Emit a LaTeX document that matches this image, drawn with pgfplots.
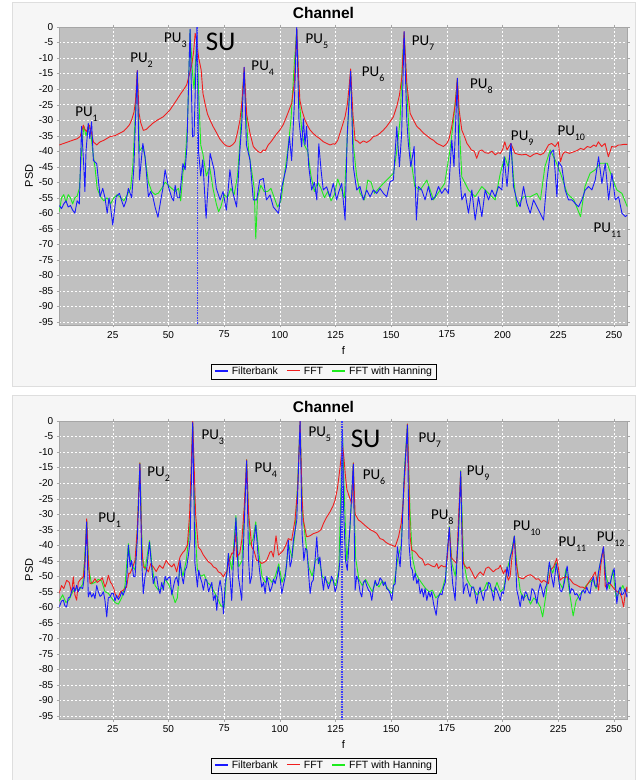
\documentclass[border=0pt]{standalone}
\usepackage{fontspec}
\setmainfont{Liberation Sans}
\newfontfamily\carlito{Carlito}
\usepackage{pgfplots}
\pgfplotsset{compat=1.18}

\definecolor{fbblue}{RGB}{25,25,255}
\definecolor{fftred}{RGB}{240,30,30}
\definecolor{hangreen}{RGB}{30,235,30}
\definecolor{plotbg}{RGB}{192,192,192}
\definecolor{panelbg}{RGB}{246,246,246}
\definecolor{panelline}{RGB}{222,222,222}
\definecolor{sublue}{RGB}{60,60,255}

\newcommand\PU[1]{{\carlito\fontsize{15}{15}\selectfont PU\raisebox{-5pt}{\fontsize{10}{10}\selectfont #1}}}
\newcommand\SU{{\carlito\fontsize{27}{27}\selectfont SU}}
\newcommand\legline[1]{\textcolor{#1}{\rule[3.2pt]{13pt}{1.2pt}}\hspace{4pt}}

\pgfplotsset{
  chan/.style={
    width=568pt, height=298pt, scale only axis,
    xmin=1, xmax=256, ymin=-96, ymax=0,
    xtick={25,50,...,250}, ytick={-95,-90,...,0},
    grid=major,
    major grid style={white, dash pattern=on 2pt off 2pt, line width=0.5pt},
    axis background/.style={fill=plotbg},
    axis line style={gray!70, line width=0.6pt},
    tick align=outside, major tick length=2.5pt, tick style={gray!70},
    ticklabel style={font=\fontsize{10}{12}\selectfont},
    /pgf/number format/assume math mode=true,
    xlabel=f, ylabel=PSD,
    label style={font=\fontsize{11}{13}\selectfont},
    xlabel style={at={(axis description cs:0.5,-0.084)}, anchor=center},
    ylabel style={at={(axis description cs:-0.053,0.5)}, anchor=center},
    title=Channel,
    title style={at={(axis description cs:0.465,1.027)}, anchor=center,
      font=\bfseries\fontsize{15.5}{18}\selectfont},
    legend columns=3,
    legend style={at={(axis description cs:0.465,-0.131)}, anchor=north,
      draw=black, fill=panelbg, font=\fontsize{10.5}{12}\selectfont,
      inner xsep=2pt, inner ysep=1pt,
      /tikz/every even column/.append style={column sep=5pt}},
    every axis plot/.append style={line width=0.9pt, line join=round},
  },
}

\begin{document}
\begin{tikzpicture}
\useasboundingbox (0pt,0pt) rectangle (637pt,780pt);
\fill[white] (0pt,0pt) rectangle (637pt,780pt);
\filldraw[fill=panelbg, draw=panelline] (12pt,394pt) rectangle (635pt,778pt);
\filldraw[fill=panelbg, draw=panelline] (12pt,0pt) rectangle (635pt,385pt);

% ---------- top panel: SU at 63 ----------
\begin{axis}[chan, at={(59.3pt,455pt)}, anchor=south west]
\addlegendimage{empty legend}\addlegendentry{\legline{fbblue}Filterbank}
\addlegendimage{empty legend}\addlegendentry{\legline{fftred}FFT}
\addlegendimage{empty legend}\addlegendentry{\legline{hangreen}FFT with Hanning}

% FFT with Hanning
\addplot[color=hangreen, forget plot] coordinates {
(1,-59.5) (2,-55) (3,-54) (4,-56.5) (5,-54) (6,-55) (7,-57) (8,-55) (9,-54.5) (10,-52)
(11,-40) (12,-32) (13,-35) (14,-32) (15,-33) (16,-40) (17,-45) (18,-52) (19.5,-54.7) (21,-56)
(22.5,-55) (24,-57) (25.5,-55) (27,-54) (28.5,-55) (30,-56) (31.5,-54) (33,-52) (34,-45) (35,-30)
(36,-14.5) (37,-40) (38.5,-38.5) (39.5,-42) (41,-50) (42.5,-53) (44,-54) (45.5,-53.5) (47,-52) (48.5,-50)
(50,-51) (51.5,-52) (53,-53) (54.5,-52) (55.5,-56) (56.5,-47) (57.5,-43) (58.5,-32) (59.7,-1) (60.8,-15)
(61.5,-20) (62.8,-3) (63.5,-20) (64.5,-38) (65.5,-41) (67,-48) (68.5,-45) (70,-52) (71.5,-57) (72.5,-59.5)
(73.5,-58) (75,-54) (76.5,-55) (78,-52) (79.5,-54) (81,-48) (82,-38) (83,-25) (84,-13.5) (85,-30)
(86,-40) (87.5,-47) (88.5,-52) (89.2,-68.3) (90,-55) (91.5,-51) (93,-53) (94.5,-53) (96,-52) (97.5,-55)
(99,-58) (100.5,-56) (102,-48) (103.5,-40) (105,-30) (106.5,-12) (107.6,-1) (108.6,-22) (109.8,-33) (111,-38)
(112.5,-40) (114,-48) (115.5,-53) (117,-50) (118.5,-52) (120,-55) (121.5,-53) (123,-56) (124.5,-54) (126,-49)
(127.5,-52) (129,-55) (130.3,-35) (131.8,-14.5) (133,-38) (134.5,-48) (136,-53.5) (138,-55.7) (139.5,-49.3) (141,-50)
(142.5,-53.6) (145,-51.5) (148,-49.3) (151,-47.1) (152.5,-40) (154,-30) (155,-12) (155.8,-2) (157,-20) (158.5,-40.7)
(160.6,-51.4) (163,-52.5) (166,-49.3) (169,-55.7) (172,-52.5) (174,-50.4) (176.4,-39.6) (178,-30) (179.7,-17) (181,-38)
(181.7,-48.2) (184.7,-52.5) (187.7,-54.7) (190.7,-51.4) (193.7,-53.6) (196.7,-55.7) (199,-47.1) (201,-41.8) (202.5,-45) (203.8,-38)
(205,-49.3) (206.4,-57.9) (209.4,-54.7) (212.4,-54.7) (215.4,-53.6) (217,-55.7) (219,-45) (221.4,-39.6) (223.6,-42.8) (226,-47.1)
(229,-53.6) (232,-55.7) (235,-61.1) (237,-51.4) (239.3,-47.1) (241.6,-46) (243.8,-43.9) (247,-43.9) (249,-48.2) (251.3,-52.5)
(253.6,-53.6) (256,-57.9)
};

% FFT
\addplot[color=fftred, forget plot] coordinates {
(1,-38) (3,-37.5) (5,-37) (7.3,-36.4) (9,-36) (10.3,-35.3) (11.3,-33) (11.8,-31.6) (12.5,-33) (13.3,-33.7)
(14,-32) (14.5,-31.6) (15.5,-34.2) (16.3,-37) (17.8,-38) (19.3,-37) (21,-36.5) (23.8,-35.3) (26,-35) (28.2,-34.2)
(30,-33.5) (31.2,-32.6) (32.5,-31.5) (33.5,-29.9) (34.5,-27.5) (35.2,-24) (36,-14) (36.8,-27.8) (37.5,-30.7) (38.7,-33.3)
(40,-33) (41.5,-32) (43,-31) (45,-30) (47.7,-28.9) (50.7,-26.7) (52.3,-25) (53.7,-23.5) (55.5,-21.5) (57,-20)
(58.2,-18.6) (59.5,-15) (60.5,-12) (61.3,-8) (62,-2) (62.8,-5) (63.5,-9.6) (64.7,-13.9) (65.5,-21.4) (66.4,-24.6)
(67.5,-28) (68.7,-30) (70,-32) (71.7,-34.2) (73,-36) (74.7,-37.5) (76,-38.3) (77.6,-38.5) (79,-37.8) (80,-36.9)
(81,-34) (82.1,-30) (83,-24) (84,-13) (85.1,-28) (86.6,-34.2) (88.1,-38.5) (89.3,-39.5) (90.4,-40.2) (91.5,-40.5)
(92.6,-39.6) (93.5,-39.8) (94.8,-38) (96,-37) (97.1,-35.9) (98.5,-34.5) (100,-33.2) (101.5,-31.5) (103,-28.9) (104.3,-26.5)
(105.3,-24.6) (106.5,-18) (107.6,-0.5) (108.5,-17) (109,-23.5) (110,-27) (111.3,-30) (112.5,-31.8) (113.6,-33.2) (115,-34.3)
(116.6,-35.3) (118,-36) (119.6,-37) (121,-37.5) (122.6,-38) (124,-37.6) (124.8,-37.8) (126,-36.5) (127,-34.2) (128.2,-31.5)
(129.3,-28.9) (130.3,-25) (131,-20) (131.8,-13.5) (132.8,-28) (133.8,-36.4) (135,-36.8) (136,-37.5) (137.5,-36.7) (139,-37.2)
(140.5,-36.5) (142,-35.3) (143.5,-35) (145,-34.2) (146.5,-33.2) (148,-32) (149.5,-30.5) (151,-28.9) (152.5,-25.6) (153.7,-22)
(154.8,-16) (155.8,-1.5) (157,-18) (158.5,-27.8) (160,-30) (161.5,-32) (163,-33) (164.5,-34.2) (166,-35) (167.5,-35.9)
(169,-36.5) (170.5,-37.5) (172,-38) (173.5,-38.5) (175,-37.5) (176,-36) (177.2,-32) (178.7,-25) (179.7,-16.5) (180.5,-26.7)
(181.7,-33.2) (183,-35.5) (184,-37.5) (185,-38.5) (186,-39.6) (187.3,-40) (188.4,-42.3) (189.5,-40) (190.7,-39.6) (192.2,-40.5)
(193.7,-40.7) (195.2,-40) (196.7,-41.2) (198,-40.5) (199,-40.7) (200,-39.5) (201,-37) (202,-39.6) (203.7,-37.5) (205.6,-40.7)
(207,-41) (208.6,-41.2) (210.5,-41) (212.4,-41.8) (214,-41) (215.4,-40.7) (217,-41.2) (218.4,-40.7) (219.5,-39.5) (220.6,-38)
(222,-37.5) (223.6,-38.5) (225,-37) (226,-43.4) (227,-41) (228,-40.2) (230,-40.7) (232,-40.2) (233.5,-39.8) (235,-39.1)
(236.5,-39.5) (238,-38.5) (239.5,-38.8) (241,-38) (242,-38.5) (243,-37) (244.5,-38.5) (246,-37.5) (247.5,-41.8) (249,-38.5)
(250.5,-38.7) (252,-38) (253,-38) (254.5,-37.8) (256,-37.8)
};

% Filterbank
\addplot[color=fbblue, forget plot] coordinates {
(1,-57.5) (2,-58.5) (3,-57) (4,-56) (5,-58) (6,-57.5) (7,-59) (8,-60) (9,-56) (10,-57)
(11,-32) (12,-45) (12.5,-53) (13,-40) (14,-31) (14.7,-36) (15.5,-30.5) (16.3,-43) (17.8,-44) (19.3,-54.7)
(20.5,-52) (21.5,-55) (22.5,-60) (23.3,-55) (24,-58) (25,-63.8) (26.5,-54.7) (28,-53.6) (29,-56) (30,-58)
(31,-56) (32,-52) (33.5,-55) (34.5,-45) (35.2,-30) (36,-14) (37,-49.3) (38.5,-37.5) (39.5,-41.8) (41,-54.7)
(42,-53) (43,-54.7) (44,-58) (45.3,-61.3) (46.5,-56) (47.5,-52) (48.5,-46) (50,-51.5) (51.5,-55) (52.3,-56)
(53,-51) (54,-55) (55,-55) (56.5,-44) (57.5,-46) (58.3,-38.5) (59.7,-0.7) (60.8,-35.4) (61.5,-35) (62.8,0)
(63.5,-40) (64.5,-48) (65.4,-42.8) (66.9,-61.6) (68.7,-40.7) (70.5,-46) (71.5,-52) (73.2,-55.7) (74.5,-53) (76,-59)
(77.6,-46) (79,-53.6) (80.6,-58) (82,-40.7) (83,-30) (84,-13) (85,-38) (86.6,-42.8) (88.1,-55.7) (89.6,-55.7)
(91,-49.3) (92.6,-48.8) (94,-55.7) (95.6,-54.1) (97.1,-58) (99.4,-60) (100.9,-51.5) (103,-45) (104.3,-35.3) (105.3,-43)
(106.5,-25) (107.6,0) (108.6,-30) (109.8,-38.6) (110.6,-29.6) (111.3,-38) (112,-32) (113,-45) (114.3,-52.5) (115.5,-50)
(116.6,-55.7) (117.5,-37.6) (118.5,-46) (119.5,-52.5) (121,-51.5) (122.5,-54.7) (124,-50.4) (125.5,-55.7) (126.5,-53) (127.8,-50.4)
(129.3,-62.2) (130.3,-34.2) (131.8,-14.2) (133,-45) (134.5,-52.5) (136,-51.4) (137.5,-55.7) (139,-52.5) (140.5,-54.7) (142,-52.5)
(143.5,-53.6) (145,-52) (146.5,-53.6) (148,-54.7) (149.5,-49.8) (151,-49.3) (152.5,-32.1) (153.7,-45) (154.7,-34.2) (155.8,-1.5)
(157,-30) (157.7,-37.5) (158.8,-45) (160.3,-38.5) (161.3,-62.2) (162.2,-51.4) (163.7,-52.5) (165.2,-55.7) (166.7,-51.4) (168.2,-55.7)
(169.7,-54.7) (171.2,-51.4) (172.7,-53.6) (174.2,-52) (175.7,-53.6) (177.2,-36.4) (178.2,-45) (179.7,-16.5) (180.5,-45) (181.7,-55.7)
(183.2,-53.6) (184.7,-60) (186.2,-52.5) (187.7,-62.2) (189.2,-54.7) (190.7,-61.1) (192.2,-52.5) (193.7,-55.7) (195.2,-52.5) (196.7,-54.7)
(198.2,-51.4) (199.7,-52.5) (200.7,-41.8) (202,-51.4) (203.4,-39.6) (203.8,-37.5) (204.9,-51.4) (206.4,-55.7) (207.9,-57.9) (209.4,-51.4)
(210.9,-56.8) (212.4,-60) (213.9,-55.7) (215.4,-57.9) (216.9,-60) (218.4,-62.2) (219.9,-49.3) (221.4,-40.7) (222.9,-39.6) (224.4,-54.7)
(225.1,-43.4) (226.6,-45) (228.1,-52.5) (229.6,-55.7) (231.1,-55.7) (232.6,-56.8) (234.1,-57.9) (235.6,-55.7) (237.1,-52.5) (238.6,-51.4)
(240.1,-52.5) (241.6,-49.3) (243.1,-41.8) (244.6,-50.4) (246.1,-43.9) (247.6,-55.7) (249.1,-47.1) (250.6,-55.7) (252.1,-54.7) (253.6,-60)
(255.1,-61.1) (256,-60.6)
};

% SU marker
\addplot[color=sublue, draw=sublue, line width=1.8pt, dash pattern=on 1.5pt off 1pt, forget plot] coordinates {(63,0) (63,-96)};

\node[anchor=base west] at (axis cs:6.6,-28.7) {\PU{1}};
\node[anchor=base west] at (axis cs:31.3,-11.4) {\PU{2}};
\node[anchor=base west] at (axis cs:46.5,-4.9) {\PU{3}};
\node[anchor=base west] at (axis cs:65.2,-7.6) {\SU};
\node[anchor=base west] at (axis cs:85.7,-13.9) {\PU{4}};
\node[anchor=base west] at (axis cs:110,-5.3) {\PU{5}};
\node[anchor=base west] at (axis cs:135.3,-15.8) {\PU{6}};
\node[anchor=base west] at (axis cs:157.7,-5.8) {\PU{7}};
\node[anchor=base west] at (axis cs:183.9,-19.8) {\PU{8}};
\node[anchor=base west] at (axis cs:202.2,-36.7) {\PU{9}};
\node[anchor=base west] at (axis cs:223.1,-35) {\PU{10}};
\node[anchor=base west] at (axis cs:239.3,-66.2) {\PU{11}};
\end{axis}

% ---------- bottom panel: SU at 128 ----------
\begin{axis}[chan, at={(59.3pt,61pt)}, anchor=south west]
\addlegendimage{empty legend}\addlegendentry{\legline{fbblue}Filterbank}
\addlegendimage{empty legend}\addlegendentry{\legline{fftred}FFT}
\addlegendimage{empty legend}\addlegendentry{\legline{hangreen}FFT with Hanning}

% FFT with Hanning
\addplot[color=hangreen, forget plot] coordinates {
(1,-58) (2.5,-56) (4,-58.5) (5.5,-57.5) (7,-55) (8.5,-54) (10,-54.5) (11.5,-52.5) (12.3,-45) (13.3,-32)
(14.3,-48) (15.5,-52.5) (17,-52) (18.5,-51) (20,-51.5) (21.5,-55) (23,-55.5) (24.5,-57) (26,-58.5) (27.5,-59)
(29,-57) (30.5,-53) (32,-39.5) (33,-45) (34,-47) (35,-48) (36,-35) (37.2,-13.5) (38.3,-44) (39.5,-48)
(41.5,-38.5) (42.7,-47) (44,-53) (45.5,-54.5) (47,-54) (48.5,-51) (50,-52.5) (51.5,-55) (53,-58.5) (54,-57)
(55.2,-46) (56.5,-50) (58,-45) (59.5,-35) (60.9,-0.6) (62,-35) (63,-48) (64.5,-50) (66,-49.5) (67.5,-52)
(69,-53) (70.5,-55) (72,-57) (73.5,-59.5) (75,-60) (76,-50) (77,-43) (78.5,-48) (80.3,-30.5) (81.5,-47)
(83,-45) (84,-30) (85.1,-12.5) (86.5,-40) (88,-38) (89.2,-32.5) (90.5,-42) (92,-50) (93.5,-52) (95,-50.5)
(96.5,-52) (98,-50) (99.5,-46) (101,-52) (102.5,-49) (104,-40) (105.5,-44) (106.8,-36) (108,-20) (109.1,-0.5)
(110.2,-30) (111.5,-38) (113,-47) (114.5,-50) (116,-45) (117.5,-44) (119,-50) (120.5,-51) (122,-52.5) (123.5,-51)
(125,-53) (126.5,-48) (127.5,-20) (128.1,-3) (129,-25) (130,-45) (131.5,-35) (133,-13.5) (134,-44) (135.5,-51)
(137,-53) (138.5,-51) (140,-53) (141.5,-55) (143,-52) (144.5,-53.5) (146,-51.5) (147.5,-53) (149,-54.5) (150.5,-55.6)
(152,-49) (153,-44) (154.5,-40) (156,-15) (157.3,-1) (158.5,-30) (159.5,-44) (161,-49) (162.5,-51) (164,-52.5)
(165.5,-54) (167,-55) (168.5,-54.5) (170,-57) (171.5,-56) (173,-54) (174.5,-50) (176.1,-34) (177.3,-46) (178.8,-50)
(180.2,-38) (181.2,-16) (182.5,-45) (184,-51) (185.5,-53) (187,-54) (188.5,-56) (190,-55) (191.5,-54.5) (193,-52)
(194.5,-54) (196,-55) (197.5,-52) (199,-55) (200.5,-54) (202,-48) (203.5,-44) (205.3,-37) (206.5,-47) (208,-55)
(209.5,-57) (211,-56) (212.5,-59) (214,-57) (215.5,-58) (217,-60) (218,-63.1) (219.5,-56) (221,-46) (222.5,-49)
(224,-45.5) (225.5,-52) (227,-54) (228.5,-47.5) (230,-55) (231.7,-62.8) (233,-58) (234.5,-56) (236,-55) (237.5,-53)
(239,-52) (240.5,-51) (242,-54) (243.5,-47) (245.3,-41) (246.5,-50) (248,-54) (249.5,-48) (251,-57) (252.5,-55)
(254,-53) (255,-55) (256,-54.5)
};

% FFT
\addplot[color=fftred, forget plot] coordinates {
(1,-55.5) (2,-53) (3,-54) (4.3,-51.3) (5.5,-52) (6.5,-55.5) (7.3,-50.2) (8,-56) (8.8,-57.7) (9.5,-52)
(10.5,-51) (11.8,-50.2) (12.5,-45) (13.3,-31.5) (14,-45) (14.8,-52.4) (16,-52) (17,-50.8) (18,-52) (19.3,-51.3)
(20.3,-50.5) (21.5,-53.5) (22.3,-52) (23,-49.7) (24,-52) (24.5,-52.4) (25.5,-54) (26,-55.6) (27,-57) (27.5,-56.7)
(28.5,-55) (29.7,-54.5) (31.2,-53.5) (32.2,-49) (32.7,-49.2) (34,-47) (35,-44.9) (36,-35) (37.2,-13.5) (38,-40)
(38.7,-47) (40,-47.5) (41,-48.6) (42,-46) (43.2,-47) (44.5,-48.5) (46,-46.5) (47.5,-47.5) (49,-44.9) (50,-46)
(51.5,-47) (52.5,-46) (53.7,-48.6) (55.2,-43.8) (56.3,-42.5) (57.4,-41.6) (58.5,-40) (59.5,-30) (60.9,0) (62.2,-30)
(63.4,-40.6) (64.5,-41.5) (65.7,-43.2) (67,-44.5) (68,-45.4) (69.2,-46) (70.2,-47) (71.5,-47.5) (72.4,-48.6) (73.5,-49)
(74.7,-50.2) (75.5,-49) (76.2,-48.6) (77,-46) (77.6,-44.3) (78.5,-42.5) (79.1,-42.7) (80.3,-36) (80.6,-43.8) (82,-42.7)
(83,-38) (84,-28) (85.1,-12.5) (86,-30) (87.4,-40.6) (88.5,-42) (89.6,-44.9) (90.5,-45) (91.9,-45.9) (93,-45.5)
(94.1,-44.9) (95.6,-42.2) (96.3,-42) (97.1,-43.8) (98.3,-37) (99.4,-43.2) (100.5,-42.5) (101.6,-41.6) (102.7,-40) (103.8,-37.9)
(105.3,-38.4) (106.1,-35) (106.8,-32) (108,-22) (109.1,0) (110,-25) (110.6,-32) (112,-37.3) (113.5,-37) (115,-36.3)
(116.2,-36) (117.3,-35.7) (118.5,-35) (119.6,-33) (121,-31) (122.5,-29.3) (123.8,-27.5) (124.8,-25.5) (125.8,-22) (126.7,-17)
(127.5,-12) (128.1,-7.5) (128.8,-12) (129.5,-18) (130.1,-22) (131,-24) (132.3,-26.6) (133,-13.5) (133.8,-30) (135.3,-31.9)
(136.5,-32.5) (138,-33.5) (139,-34.1) (140.5,-35) (142,-35.5) (143.5,-36.2) (145,-37.9) (146.3,-38.2) (147.3,-38.9) (148.5,-39.5)
(150.3,-40) (151.8,-40.5) (153.3,-37.3) (154.5,-33) (155.5,-25) (156.3,-15) (157.3,-1) (158,-20) (158.5,-37.3) (159.2,-41.6)
(160.5,-42) (161.5,-42.7) (162.5,-43.8) (164,-44.5) (165.2,-46.5) (166.5,-46) (168.2,-46.7) (169.5,-47) (170.5,-45.9) (171.2,-47.5)
(172.5,-46.5) (173.5,-46.9) (174.5,-47) (175.2,-44) (176.1,-34.3) (177,-44) (178,-44.9) (179.4,-45.9) (180.3,-30) (181.2,-16.3)
(182,-40) (182.4,-45.9) (184,-47.5) (185,-47) (186.2,-48.6) (187.7,-50.8) (189.2,-49.2) (190,-48.6) (191.4,-49.7) (192.5,-47.5)
(193.7,-47) (195,-48) (195.9,-48.6) (197,-47.8) (198.2,-47.5) (199,-46.5) (200.4,-49.2) (201.2,-47.9) (202.6,-51.3) (203.4,-50)
(204.5,-42) (205.3,-37.1) (206,-45) (207.1,-50.2) (208.5,-50.7) (209.4,-50.8) (210.2,-50.2) (211.6,-49.7) (212.5,-49.5) (213.9,-50.2)
(215,-51) (216.1,-50.8) (217.5,-52) (218.4,-51.3) (219.5,-51.8) (220.6,-52.4) (221.5,-48) (222.9,-47) (224.3,-44.3) (225.2,-48)
(225.8,-51.3) (227,-50.5) (228.8,-50.2) (230.3,-51) (231.8,-52.4) (233.3,-52.9) (234.8,-53.5) (236,-53.5) (237.1,-54) (238.2,-52.5)
(239.3,-51.3) (240.5,-50) (241.6,-48.6) (242.5,-52) (243.1,-54.5) (244,-47) (245.3,-40.5) (246.1,-53.5) (247.2,-52.5) (248.3,-52.4)
(249.5,-53.5) (250.6,-54.5) (251.5,-55) (252.8,-55.6) (253.5,-57) (254.3,-59.9) (255,-56) (255.8,-53.5) (256,-55)
};

% Filterbank
\addplot[color=fbblue, forget plot] coordinates {
(1,-59.9) (2,-58) (2.8,-57.7) (3.5,-59.5) (4.3,-59.9) (5,-57) (5.8,-56.7) (6.5,-55) (7.3,-53.5) (8,-55)
(8.8,-52.9) (9.5,-55) (10.3,-53.5) (11.5,-54) (12.3,-50) (13.3,-32.5) (14,-56.7) (14.8,-55) (15.5,-56.7) (16.3,-55.6)
(17,-57.2) (17.8,-53) (18.5,-55) (19.3,-56.5) (20,-56.1) (20.8,-55) (21.5,-57.8) (22.3,-63.1) (23,-57) (23.8,-56.7)
(24.5,-55.5) (25.3,-55.6) (26,-58) (26.7,-56.1) (27.5,-57.5) (28.2,-56.7) (29,-55) (29.7,-56.1) (30.5,-54.5) (31.2,-52.4)
(32,-40) (32.8,-47) (33.5,-44.9) (34.3,-50) (35,-50.2) (36,-38.5) (37.2,-13.9) (38,-45) (38.7,-55.6) (39.5,-50)
(40.2,-48) (41.5,-39) (42.2,-45) (43.2,-52.4) (44,-50.2) (44.7,-50.2) (45.5,-54) (46.2,-55.6) (47,-52) (47.7,-54.5)
(48.5,-50) (49.2,-51.3) (50,-50.5) (50.7,-50.2) (51.5,-56) (52.2,-53.5) (53,-51) (53.7,-50.2) (54.5,-53) (55.2,-44.9)
(56,-50) (56.7,-52.4) (57.5,-48) (58.2,-47) (59,-43) (59.7,-38.4) (60.9,-0.4) (61.9,-45.9) (63,-53.5) (63.6,-48)
(64.2,-50.2) (65,-52) (65.7,-54.5) (66.5,-51) (67.2,-51.3) (68,-55) (68.7,-53.5) (69.5,-52) (70.2,-57.8) (71,-56)
(71.7,-61) (72.5,-54) (73.2,-51.3) (74,-55) (74.7,-62.1) (75.5,-52) (76.2,-49.2) (76.9,-42.7) (77.6,-50) (78.4,-57.8)
(79.2,-45) (80.3,-31.2) (81.4,-50.2) (82.2,-54) (82.9,-57.8) (83.6,-41.6) (85.1,-12.8) (86,-45) (86.6,-52.4) (87.4,-50)
(88.2,-40) (89.2,-33.5) (90.4,-44.9) (91.2,-50) (91.9,-53.5) (92.7,-52) (93.4,-55.6) (94.2,-50) (94.9,-52.4) (95.6,-55)
(96.4,-53.5) (97.2,-51) (97.9,-52.4) (98.7,-50) (99.4,-47) (100.2,-51) (100.9,-55.6) (101.6,-53) (102.4,-50.2) (103.1,-46)
(103.8,-38.4) (104.6,-47) (105.3,-45) (106.1,-38.4) (107.6,-32) (109.1,0) (110,-36.2) (110.8,-45) (111.5,-41) (112.2,-41.6)
(113,-50) (113.6,-55.6) (114.3,-52) (115,-51.3) (115.8,-45) (116.6,-37.3) (117.3,-46) (118,-43.8) (118.8,-50) (119.6,-54.5)
(120.3,-50) (121,-51.8) (121.8,-54) (122.5,-52.4) (123.2,-50) (124,-51.3) (124.8,-55) (125.5,-53.5) (126.3,-50) (127,-44.9)
(127.6,-25) (128.1,-2.7) (128.7,-30) (129.5,-45) (130.3,-48.1) (131,-40) (131.8,-30) (133,-13.9) (133.8,-54.5) (134.5,-50)
(135.3,-51.3) (136,-55) (136.8,-56.7) (137.5,-52) (138.3,-51.3) (139,-53) (139.8,-54.5) (140.5,-55) (141.3,-57.8) (142,-54)
(142.8,-51.3) (143.5,-53) (144.3,-52.4) (145,-50.5) (145.8,-51.3) (146.5,-53) (147.3,-51.8) (148,-54) (148.8,-54.5) (149.5,-55.5)
(150.3,-57.8) (151,-53) (151.8,-52.4) (152.8,-40.5) (154,-47) (154.7,-38.4) (155.7,-20) (157.3,-1.3) (158,-39.5) (158.8,-47)
(159.5,-48) (160,-51.3) (160.8,-49) (161.5,-52.4) (162.2,-51) (163,-55.6) (163.8,-54) (164.5,-56.7) (165.2,-54) (166,-57.8)
(166.8,-55) (167.5,-56.7) (168.2,-55) (169,-58.8) (170.2,-62.6) (171,-57) (172,-55.6) (172.8,-56) (173.5,-53.5) (174.3,-52)
(175,-43.8) (176.1,-34.3) (176.8,-45) (177.6,-52.4) (178.7,-57.8) (179.5,-45) (180.2,-36.3) (181.2,-16.3) (182,-45) (182.4,-55.6)
(183.2,-53) (184,-52.4) (184.7,-55) (185.4,-56.7) (186.2,-53.5) (187,-53.5) (187.7,-56) (188.4,-58.8) (189.2,-55) (189.9,-53.5)
(190.7,-56) (191.4,-57.8) (192.2,-54.5) (193,-54.5) (193.7,-52) (194.4,-52.4) (195.2,-55) (196,-57.8) (196.7,-53.5) (197.4,-54.5)
(198.2,-56) (199,-57.8) (199.7,-55) (200.4,-55.6) (201.2,-52) (202,-47) (202.7,-50) (203.4,-43.8) (204.2,-42) (205.3,-37.1)
(206,-48) (206.4,-54.5) (207.2,-57) (207.9,-59.9) (208.7,-56) (209.4,-57.8) (210.2,-55) (210.9,-55.6) (211.6,-57.5) (212.4,-57.8)
(213.2,-54) (213.9,-54.5) (214.6,-56) (215.4,-58.8) (216.1,-55) (216.9,-52.4) (217.6,-54) (218.4,-56.7) (219.1,-54) (219.9,-52.4)
(221,-45.4) (222,-50) (222.9,-53.5) (224.1,-46) (225,-50) (225.8,-54.5) (226.5,-55) (227.3,-53.5) (228,-51) (229,-46.7)
(229.8,-52) (230.3,-55.6) (231,-54) (231.8,-54.5) (232.5,-56) (233.3,-55.6) (234,-56.5) (234.8,-57.8) (235.5,-55) (236.3,-54.5)
(237,-55.5) (237.8,-53.5) (238.5,-55) (239.3,-55.6) (240,-52) (240.8,-50.2) (241.5,-53) (242.3,-53.5) (243,-49) (243.8,-45.9)
(245.3,-40.5) (246,-48) (246.8,-54.5) (247.5,-52) (248.3,-52.4) (249,-50) (250.1,-47.5) (250.8,-54) (251.3,-58.8) (252,-55)
(252.8,-53.5) (253.5,-56) (254.3,-55.6) (255,-54) (255.8,-56.7) (256,-56)
};

% SU marker
\addplot[color=sublue, draw=sublue, line width=1.8pt, dash pattern=on 1.5pt off 1pt, forget plot] coordinates {(128,0) (128,-96)};

\node[anchor=base west] at (axis cs:17,-32.8) {\PU{1}};
\node[anchor=base west] at (axis cs:39,-18) {\PU{2}};
\node[anchor=base west] at (axis cs:63.3,-5.8) {\PU{3}};
\node[anchor=base west] at (axis cs:87.1,-16.7) {\PU{4}};
\node[anchor=base west] at (axis cs:111.3,-5.1) {\PU{5}};
\node[anchor=base west] at (axis cs:130.3,-8.5) {\SU};
\node[anchor=base west] at (axis cs:135.7,-18.8) {\PU{6}};
\node[anchor=base west] at (axis cs:160.7,-6.9) {\PU{7}};
\node[anchor=base west] at (axis cs:166.3,-31.6) {\PU{8}};
\node[anchor=base west] at (axis cs:182.4,-17.4) {\PU{9}};
\node[anchor=base west] at (axis cs:203.1,-35.2) {\PU{10}};
\node[anchor=base west] at (axis cs:223.6,-40.5) {\PU{11}};
\node[anchor=base west] at (axis cs:240.8,-38.9) {\PU{12}};
\end{axis}
\end{tikzpicture}
\end{document}
